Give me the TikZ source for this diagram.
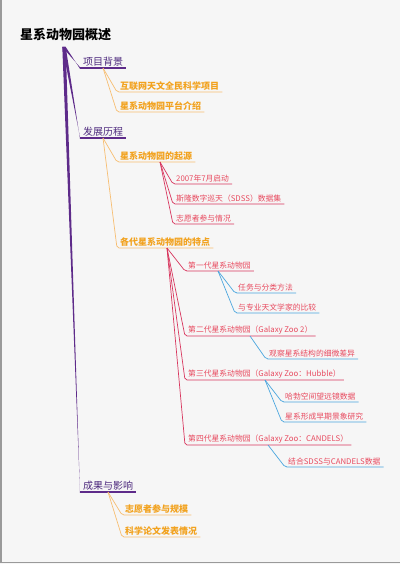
\documentclass[tikz,border=0pt]{standalone}
\usepackage{fontspec}
\setmainfont{Noto Sans CJK SC}
\usetikzlibrary{calc}
\definecolor{cpurple}{HTML}{5E2B8A}
\definecolor{tpurple}{HTML}{4E2A7E}
\definecolor{torange}{HTML}{F2A21E}
\definecolor{corange}{HTML}{F7BE72}
\definecolor{tred}{HTML}{E84A5F}
\definecolor{cred}{HTML}{D8365E}
\definecolor{cblue}{HTML}{4AA6DE}
\definecolor{bgc}{HTML}{F6F6F6}
\definecolor{frame}{HTML}{9A9A9A}
\newcommand\taperline[2]{\fill[cpurple] ($(#1)+(-1.7,0)$) -- ($(#2.south west)+(0,-0.8)$) -- ($(#2.south west)+(0,0.8)$) -- ($(#1)+(1.7,0)$) -- cycle;}
\begin{document}
\begin{tikzpicture}[x=1pt,y=-1pt,
  rootn/.style={inner sep=0pt,anchor=base west,font=\fontsize{13}{15}\selectfont\bfseries,text=black},
  lone/.style={inner xsep=3pt,inner ysep=1.8pt,anchor=south west,font=\fontsize{10}{12}\selectfont,text=tpurple},
  ltwo/.style={inner xsep=3pt,inner ysep=1.6pt,anchor=south west,font=\fontsize{9}{11}\selectfont\bfseries,text=torange},
  lthree/.style={inner xsep=3pt,inner ysep=1.5pt,anchor=south west,font=\fontsize{7.8}{10}\selectfont,text=tred},
  ulone/.style={cpurple,line width=1.3pt},
  ulorange/.style={corange,line width=0.7pt,rounded corners=2pt},
  ulred/.style={cred,line width=0.7pt,rounded corners=2pt},
  ulblue/.style={cblue,line width=0.7pt,rounded corners=2pt}]
\useasboundingbox (0,0) rectangle (400,564);
\fill[bgc] (0,0) rectangle (400,564);
\draw[frame,line width=1.5pt] (0.75,0) -- (0.75,562.5) -- (400,562.5);

% root
\node[rootn] (root) at (20,40) {星系动物园概述};
\coordinate (r0) at (64,47);

% level 1
\node[lone] (a) at (80,68) {项目背景};
\node[lone] (b) at (80,138) {发展历程};
\node[lone] (c) at (80,492) {成果与影响};
\taperline{r0}{a}
\taperline{r0}{b}
\taperline{r0}{c}
\draw[ulone] (a.south west) -- (a.south east);
\draw[ulone] (b.south west) -- (b.south east);
\draw[ulone] (c.south west) -- (c.south east);

% level 2
\node[ltwo] (a1) at (117,92) {互联网天文全民科学项目};
\node[ltwo] (a2) at (117,112) {星系动物园平台介绍};
\node[ltwo] (b1) at (117,162) {星系动物园的起源};
\node[ltwo] (b2) at (117,248) {各代星系动物园的特点};
\node[ltwo] (c1) at (122,515) {志愿者参与规模};
\node[ltwo] (c2) at (122,537) {科学论文发表情况};
\coordinate (pa) at ([xshift=23pt]a.south west);
\coordinate (pb) at ([xshift=23pt]b.south west);
\coordinate (pc) at ([xshift=28pt]c.south west);
\draw[ulorange] (pa) -- (a1.south west) -- (a1.south east);
\draw[ulorange] (pa) -- (a2.south west) -- (a2.south east);
\draw[ulorange] (pb) -- (b1.south west) -- (b1.south east);
\draw[ulorange] (pb) -- (b2.south west) -- (b2.south east);
\draw[ulorange] (pc) -- (c1.south west) -- (c1.south east);
\draw[ulorange] (pc) -- (c2.south west) -- (c2.south east);

% level 3
\node[lthree] (b11) at (173,184) {2007年7月启动};
\node[lthree] (b12) at (173,204) {斯隆数字巡天（SDSS）数据集};
\node[lthree] (b13) at (173,224) {志愿者参与情况};
\coordinate (pb1) at ([xshift=43pt]b1.south west);
\draw[ulred] (pb1) -- (b11.south west) -- (b11.south east);
\draw[ulred] (pb1) -- (b12.south west) -- (b12.south east);
\draw[ulred] (pb1) -- (b13.south west) -- (b13.south east);

\node[lthree] (g1) at (185,271) {第一代星系动物园};
\node[lthree] (g2) at (185,336) {第二代星系动物园（Galaxy Zoo 2）};
\node[lthree] (g3) at (185,380) {第三代星系动物园（Galaxy Zoo：Hubble）};
\node[lthree] (g4) at (185,445) {第四代星系动物园（Galaxy Zoo：CANDELS）};
\coordinate (pb2) at ([xshift=50pt]b2.south west);
\draw[ulred] (pb2) -- (g1.south west) -- (g1.south east);
\draw[ulred] (pb2) -- (g2.south west) -- (g2.south east);
\draw[ulred] (pb2) -- (g3.south west) -- (g3.south east);
\draw[ulred] (pb2) -- (g4.south west) -- (g4.south east);

% level 4
\node[lthree] (g11) at (235,293) {任务与分类方法};
\node[lthree] (g12) at (235,313) {与专业天文学家的比较};
\node[lthree] (g21) at (266,359) {观察星系结构的细微差异};
\node[lthree] (g31) at (282,402) {哈勃空间望远镜数据};
\node[lthree] (g32) at (282,422) {星系形成早期景象研究};
\node[lthree] (g41) at (285,467) {结合SDSS与CANDELS数据};
\coordinate (pg1) at ([xshift=33pt]g1.south west);
\coordinate (pg2) at ([xshift=65pt]g2.south west);
\coordinate (pg3) at ([xshift=80pt]g3.south west);
\coordinate (pg4) at ([xshift=83pt]g4.south west);
\draw[ulblue] (pg1) -- (g11.south west) -- (g11.south east);
\draw[ulblue] (pg1) -- (g12.south west) -- (g12.south east);
\draw[ulblue] (pg2) -- (g21.south west) -- (g21.south east);
\draw[ulblue] (pg3) -- (g31.south west) -- (g31.south east);
\draw[ulblue] (pg3) -- (g32.south west) -- (g32.south east);
\draw[ulblue] (pg4) -- (g41.south west) -- (g41.south east);
\end{tikzpicture}
\end{document}
